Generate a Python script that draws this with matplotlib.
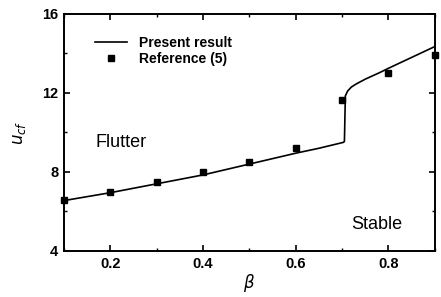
import numpy as np
import matplotlib.pyplot as plt
from matplotlib.ticker import MultipleLocator

plt.rcParams['font.family'] = ['Liberation Sans', 'DejaVu Sans']

# Present result (curve)
beta_line = [0.1, 0.2, 0.3, 0.4, 0.5, 0.6, 0.65, 0.703, 0.705, 0.707, 0.712, 0.72,
             0.73, 0.75, 0.78, 0.8, 0.85, 0.9]
ucf_line = [6.55, 6.95, 7.4, 7.85, 8.4, 8.95, 9.2, 9.5, 9.55, 11.85, 12.1, 12.3,
            12.45, 12.7, 13.02, 13.25, 13.8, 14.35]

# Reference (5) points
beta_ref = [0.1, 0.2, 0.3, 0.4, 0.5, 0.6, 0.7, 0.8, 0.9]
ucf_ref = [6.6, 7.0, 7.5, 8.0, 8.5, 9.2, 11.65, 13.0, 13.9]

fig = plt.figure(figsize=(4.41, 2.97), dpi=100)
ax = fig.add_axes([0.145, 0.155, 0.841, 0.798])

ax.plot(beta_line, ucf_line, color='black', linewidth=1.2, label='Present result')
ax.plot(beta_ref, ucf_ref, 's', color='black', markersize=5, linestyle='none',
        label='Reference (5)', clip_on=False)

ax.set_xlim(0.1, 0.9)
ax.set_ylim(4, 16)
ax.xaxis.set_major_locator(MultipleLocator(0.2))
ax.xaxis.set_minor_locator(MultipleLocator(0.1))
ax.yaxis.set_major_locator(MultipleLocator(4))
ax.yaxis.set_minor_locator(MultipleLocator(2))
ax.tick_params(which='both', direction='in', top=True, right=True)
ax.tick_params(which='major', length=4, width=1.2, labelsize=10.5, pad=4)
ax.tick_params(which='minor', length=2.5, width=1)
for lab in ax.get_xticklabels() + ax.get_yticklabels():
    lab.set_fontweight('bold')
for s in ax.spines.values():
    s.set_linewidth(1.4)

ax.set_xlabel(r'$\beta$', fontsize=12, labelpad=1)
ax.set_ylabel(r'$u_{cf}$', fontsize=12, labelpad=10)

ax.text(0.168, 9.5, 'Flutter', fontsize=13, ha='left', va='center')
ax.text(0.72, 5.35, 'Stable', fontsize=13, ha='left', va='center')

leg = ax.legend(loc='upper left', bbox_to_anchor=(0.05, 0.96), frameon=False,
                prop={'size': 10, 'weight': 'bold'}, handlelength=2.3,
                handletextpad=0.9, labelspacing=0.15)

fig.savefig('out.png', dpi=100)
